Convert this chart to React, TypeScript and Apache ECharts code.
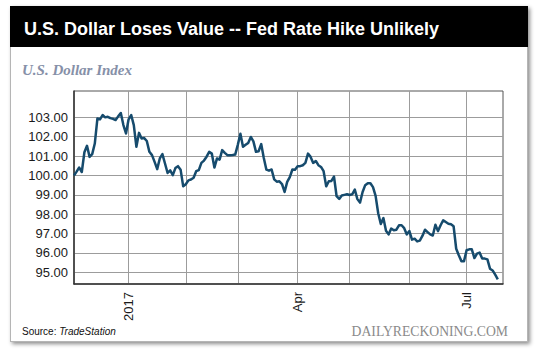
import React, { useEffect, useRef } from 'react';
import * as echarts from 'echarts';

const START_DATE = '2016-12-02';
const AXIS_DAYS = 166;

const DOLLAR_INDEX: number[] = [
  100.0, 100.2, 100.41, 100.18, 101.2, 101.53, 100.96, 101.1, 101.65, 102.94,
  102.9, 103.12, 103.0, 103.03, 102.96, 102.92, 102.86, 103.05, 103.22, 102.6,
  102.17, 102.9, 103.12, 102.6, 101.48, 102.2, 101.91, 101.93, 101.78, 101.22,
  101.05, 100.7, 100.33, 100.88, 101.1, 100.62, 100.13, 100.26, 100.02, 100.38,
  100.48, 100.3, 99.44, 99.55, 99.75, 99.79, 99.88, 100.22, 100.28, 100.65,
  100.77, 100.97, 101.22, 101.13, 100.41, 100.88, 100.82, 101.31, 101.17, 101.05,
  101.05, 101.06, 101.08, 101.58, 102.15, 101.48, 101.58, 101.68, 101.99, 101.76,
  101.22, 101.25, 101.62, 100.9, 100.3, 100.25, 100.31, 99.8, 99.68, 99.7,
  99.56, 99.15, 99.67, 99.92, 100.31, 100.3, 100.48, 100.48, 100.53, 100.65,
  101.13, 100.96, 100.65, 100.75, 100.53, 100.44, 100.22, 99.44, 99.7, 99.72,
  99.94, 98.93, 98.79, 98.97, 99.0, 99.03, 98.99, 99.03, 99.27, 98.78,
  98.6, 99.15, 99.5, 99.6, 99.6, 99.4, 98.95, 98.05, 97.5, 97.8,
  97.15, 96.96, 97.26, 97.17, 97.2, 97.43, 97.43, 97.28, 96.96, 97.13,
  96.69, 96.74, 96.6, 96.64, 96.88, 97.2, 97.08, 96.96, 96.9, 97.46,
  97.13, 97.43, 97.69, 97.6, 97.51, 97.48, 97.38, 96.22, 95.88, 95.58,
  95.58, 96.14, 96.19, 96.19, 95.74, 95.97, 96.02, 95.71, 95.71, 95.67,
  95.19, 95.1, 94.88, 94.64,
];

const Y_TICK_MIN = 95;
const Y_TICK_MAX = 103;
const Y_VIEW_MIN = 94.4;
const Y_VIEW_MAX = 104.36;

const MONTH_LABELS: Record<number, string> = { 3: 'Apr', 6: 'Jul' };

function weekdayCategories(start: string, n: number): string[] {
  const out: string[] = [];
  const d = new Date(start + 'T00:00:00Z');
  while (out.length < n) {
    const wd = d.getUTCDay();
    if (wd !== 0 && wd !== 6) out.push(d.toISOString().slice(0, 10));
    d.setUTCDate(d.getUTCDate() + 1);
  }
  return out;
}

const CATEGORIES = weekdayCategories(START_DATE, AXIS_DAYS);

function isMonthStart(idx: number): boolean {
  if (idx <= 0) return false;
  return CATEGORIES[idx].slice(5, 7) !== CATEGORIES[idx - 1].slice(5, 7);
}

const GRID_LEFT = 74;
const GRID_TOP = 91;
const GRID_W = 429;
const GRID_H = 193;
const PX_PER_UNIT = GRID_H / (Y_VIEW_MAX - Y_VIEW_MIN);

export default function App() {
  const ref = useRef<HTMLDivElement>(null);

  useEffect(() => {
    if (!ref.current) return;
    const chart = echarts.init(ref.current, undefined, { renderer: 'svg' });
    const font = 'Helvetica, Arial, "Liberation Sans", sans-serif';
    const gridColor = '#9c9c9c';
    chart.setOption({
      animation: false,
      backgroundColor: 'transparent',
      grid: [
        {
          left: GRID_LEFT, top: GRID_TOP, width: GRID_W, height: GRID_H,
          show: true, borderColor: '#555', borderWidth: 1, backgroundColor: 'transparent',
        },
        {
          left: GRID_LEFT,
          top: GRID_TOP + (Y_VIEW_MAX - Y_TICK_MAX) * PX_PER_UNIT,
          width: GRID_W,
          height: (Y_TICK_MAX - Y_TICK_MIN) * PX_PER_UNIT,
          show: false,
        },
      ],
      xAxis: [
        {
          type: 'category',
          gridIndex: 0,
          data: CATEGORIES,
          boundaryGap: false,
          axisLine: { show: true, lineStyle: { color: '#333', width: 1.5 } },
          axisTick: { show: false },
          splitLine: {
            show: true,
            interval: (idx: number) => isMonthStart(idx),
            lineStyle: { color: gridColor, width: 1 },
          },
          axisLabel: {
            interval: (idx: number) => isMonthStart(idx),
            rotate: 90,
            margin: 8,
            fontSize: 13,
            fontFamily: font,
            color: '#1a1a1a',
            formatter: (val: string) => {
              const m = parseInt(val.slice(5, 7), 10) - 1;
              if (m === 0) return val.slice(0, 4);
              return MONTH_LABELS[m] || '';
            },
          },
        },
        { type: 'value', gridIndex: 1, show: false, min: 0, max: 1 },
      ],
      yAxis: [
        {
          type: 'value',
          gridIndex: 0,
          min: Y_VIEW_MIN,
          max: Y_VIEW_MAX,
          axisLine: { show: true, lineStyle: { color: '#333', width: 1.5 } },
          axisTick: { show: false },
          axisLabel: { show: false },
          splitLine: { show: false },
        },
        {
          type: 'value',
          gridIndex: 1,
          min: Y_TICK_MIN,
          max: Y_TICK_MAX,
          interval: 1,
          axisLine: { show: false },
          axisTick: { show: false },
          splitLine: { show: true, lineStyle: { color: gridColor, width: 1 } },
          axisLabel: {
            margin: 6,
            fontSize: 13,
            fontFamily: font,
            color: '#1a1a1a',
            formatter: (v: number) => v.toFixed(2),
          },
        },
      ],
      series: [
        {
          type: 'line',
          xAxisIndex: 0,
          yAxisIndex: 0,
          data: DOLLAR_INDEX,
          symbol: 'none',
          z: 5,
          lineStyle: { color: '#164b6d', width: 2.5, join: 'round' },
        },
      ],
      graphic: [
        {
          type: 'text', left: 24, top: 20,
          style: { text: 'U.S. Dollar Loses Value -- Fed Rate Hike Unlikely', fill: '#fff', font: 'bold 18px ' + font },
        },
        {
          type: 'text', left: 22, top: 62,
          style: { text: 'U.S. Dollar Index', fill: '#8690a8', font: 'italic bold 15px "Liberation Serif", "DejaVu Serif", serif' },
        },
        {
          type: 'text', left: 22, top: 326,
          style: {
            text: '{a|Source: }{b|TradeStation}',
            rich: {
              a: { fontSize: 10, fontFamily: font, fill: '#111' },
              b: { fontSize: 10, fontFamily: font, fontStyle: 'italic', fill: '#111' },
            },
          },
        },
        {
          type: 'text', right: 32, top: 324,
          style: { text: 'DAILYRECKONING.COM', fill: '#8a8a8a', font: '13.7px "Liberation Serif", "DejaVu Serif", serif' },
        },
      ],
    });
    return () => chart.dispose();
  }, []);

  return (
    <div style={{ position: 'fixed', left: 0, top: 0, width: 540, height: 351, background: '#fff', overflow: 'hidden' }}>
      <div style={{
        position: 'absolute', left: 10, top: 6, width: 516, height: 334,
        background: '#fff', border: '1px solid #b5b5b5',
        boxShadow: '2px 2px 4px rgba(0,0,0,0.45)',
      }} />
      <div style={{ position: 'absolute', left: 10, top: 6, width: 518, height: 41, background: '#000' }} />
      <div ref={ref} style={{ position: 'absolute', left: 0, top: 0, width: 540, height: 351 }} />
    </div>
  );
}
